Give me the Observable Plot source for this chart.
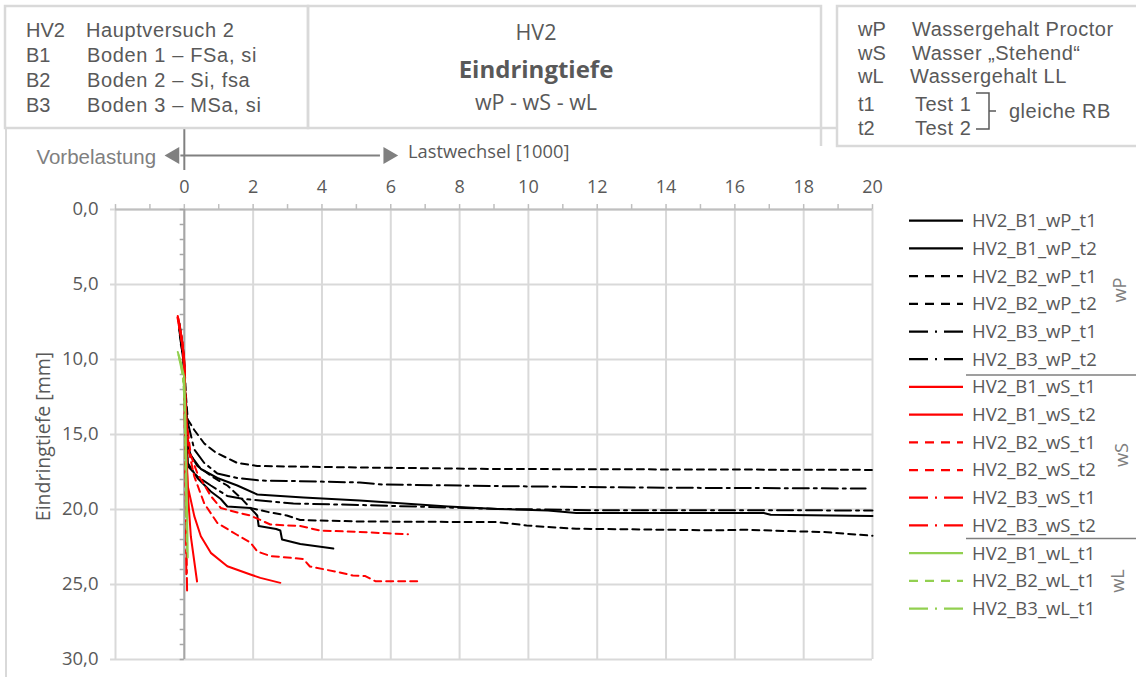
<!DOCTYPE html>
<html><head><meta charset="utf-8">
<script src="https://cdn.jsdelivr.net/npm/d3@7"></script>
<script src="https://cdn.jsdelivr.net/npm/@observablehq/plot@0.6"></script>
<style>
html,body{margin:0;padding:0;background:#fff;}
#wrap{position:relative;width:1136px;height:677px;overflow:hidden;background:#fff;}
#wrap > svg{position:absolute;left:0;top:0;}
</style></head><body><div id="wrap"></div>
<script>
// ---------- data ----------
const xTickLabels = [0, 2, 4, 6, 8, 10, 12, 14, 16, 18, 20];
const xGrid = [-2, 0, 2, 4, 6, 8, 10, 12, 14, 16, 18, 20];
const yTickLabels = [0, 5, 10, 15, 20, 25, 30];
const seriesNames = [
  "HV2_B1_wP_t1","HV2_B1_wP_t2","HV2_B2_wP_t1","HV2_B2_wP_t2","HV2_B3_wP_t1","HV2_B3_wP_t2",
  "HV2_B1_wS_t1","HV2_B1_wS_t2","HV2_B2_wS_t1","HV2_B2_wS_t2","HV2_B3_wS_t1","HV2_B3_wS_t2",
  "HV2_B1_wL_t1","HV2_B2_wL_t1","HV2_B3_wL_t1"
];
const groupLabels = ["wP", "wS", "wL"];
const leftBoxRows = [["HV2","Hauptversuch 2"],["B1","Boden 1 – FSa, si"],["B2","Boden 2 – Si, fsa"],["B3","Boden 3 – MSa, si"]];
const rightBoxRows = [["wP","Wassergehalt Proctor"],["wS","Wasser „Stehend“"],["wL","Wassergehalt LL"],["t1","Test 1"],["t2","Test 2"]];
const titleLines = ["HV2", "Eindringtiefe", "wP - wS - wL"];

// [Lastwechsel (1000), Eindringtiefe (mm)]
const HV2_B1_wP_t1 = [[-0.16,7.7],[-0.05,9.2],[0,10.5],[0.03,13],[0.05,15.3],[0.19,16.4],[0.48,17.3],[0.96,17.9],[1.54,18.4],[2.12,19.0],[3.46,19.2],[5.1,19.4],[7.66,19.8],[9.1,19.96],[10.57,20.06],[11.39,20.23],[16.84,20.23],[17.04,20.35],[20,20.43]];
const HV2_B1_wP_t2 = [[-0.15,8.0],[-0.04,9.6],[0,11],[0.04,14],[0.1,16.9],[0.38,17.9],[0.77,18.8],[1.06,19.3],[1.25,19.8],[1.92,19.9],[2.12,20.4],[2.16,21.1],[2.67,21.3],[2.79,21.4],[2.84,22.0],[3.37,22.3],[4.33,22.6]];
const HV2_B2_wP_t1 = [[-0.14,7.6],[-0.05,9],[0,10.2],[0.05,12.5],[0.1,14.0],[0.29,14.7],[0.58,15.6],[0.91,16.2],[1.54,16.9],[2.12,17.1],[5.1,17.2],[9.1,17.3],[20,17.36]];
const HV2_B2_wP_t2 = [[-0.12,8.2],[-0.03,9.8],[0,11],[0.06,14],[0.14,16.2],[0.38,17.1],[0.87,17.9],[1.25,18.4],[1.63,19.2],[1.92,19.9],[2.5,20.2],[2.98,20.4],[3.37,20.7],[5.1,20.8],[9.1,20.84],[9.95,21.06],[10.57,21.17],[11.39,21.28],[15.5,21.39],[16.32,21.35],[17.55,21.44],[18.58,21.5],[20,21.75]];
const HV2_B3_wP_t1 = [[-0.13,8.4],[-0.03,9.9],[0,11],[0.08,14],[0.29,16],[0.58,16.9],[0.96,17.6],[1.54,17.9],[2.21,18.07],[3.17,18.1],[5.1,18.2],[5.74,18.33],[9.1,18.44],[14,18.55],[19.8,18.6]];
const HV2_B3_wP_t2 = [[-0.1,8.8],[-0.02,10.2],[0,11.5],[0.05,15],[0.1,17.1],[0.38,17.8],[0.77,18.4],[1.25,19.1],[1.73,19.3],[2.21,19.4],[3.17,19.6],[5.1,19.7],[9.1,19.96],[12,20.05],[20,20.06]];
const HV2_B1_wS_t1 = [[-0.19,7.1],[-0.08,8.5],[0,10],[0.02,13],[0.05,16.2],[0.12,19.5],[0.19,21.8],[0.37,24.8]];
const HV2_B1_wS_t2 = [[-0.18,7.4],[-0.06,8.8],[0,10.3],[0.03,13],[0.06,16],[0.1,18.44],[0.29,20.44],[0.48,21.78],[0.77,22.89],[1.25,23.78],[1.92,24.33],[2.21,24.56],[2.79,24.89]];
const HV2_B2_wS_t1 = [[-0.17,7.3],[-0.05,8.9],[0,10.4],[0.05,13.5],[0.12,16],[0.29,17.8],[0.58,19.6],[0.96,20.9],[1.54,21.7],[1.92,22.2],[2.12,22.8],[2.5,23.1],[3.46,23.3],[3.65,23.8],[4.52,24.2],[4.9,24.4],[5.26,24.44],[5.55,24.78],[6.89,24.78]];
const HV2_B2_wS_t2 = [[-0.16,7.6],[-0.04,9.2],[0,10.6],[0.06,14],[0.19,16.4],[0.38,17.6],[0.77,19.1],[1.06,19.9],[1.54,20.2],[1.92,20.4],[2.5,21.0],[3.37,21.1],[3.94,21.4],[5.1,21.5],[6.5,21.65]];
const HV2_B3_wS_t1 = [[-0.2,7.2],[-0.1,8.3],[-0.02,9.8],[0.0,12],[0.02,15],[0.04,18.5],[0.06,22],[0.08,25.4]];
const HV2_B3_wS_t2 = [[-0.15,7.8],[-0.06,9.0],[0.0,10.5],[0.01,13.5],[0.03,17],[0.05,21],[0.06,24.6]];
const HV2_B1_wL_t1 = [[-0.19,9.5],[-0.1,10.2],[0,11.2],[0.03,13.5],[0.05,16],[0.07,19],[0.09,21.5],[0.1,23.2]];
const HV2_B2_wL_t1 = [[-0.17,9.7],[-0.08,10.5],[-0.01,11.8],[0.02,14.5],[0.04,17.5],[0.06,20.5],[0.08,22.8]];
const HV2_B3_wL_t1 = [[-0.15,9.9],[-0.05,11],[0,12.5],[0.03,15.5],[0.05,18.5],[0.06,20.5]];
const seriesValues = [HV2_B1_wP_t1,HV2_B1_wP_t2,HV2_B2_wP_t1,HV2_B2_wP_t2,HV2_B3_wP_t1,HV2_B3_wP_t2,
  HV2_B1_wS_t1,HV2_B1_wS_t2,HV2_B2_wS_t1,HV2_B2_wS_t2,HV2_B3_wS_t1,HV2_B3_wS_t2,
  HV2_B1_wL_t1,HV2_B2_wL_t1,HV2_B3_wL_t1];

// ---------- styles ----------
const colorOf = {wP: "#000000", wS: "#ff0000", wL: "#92d050"};
const dashOf = {B1: null, B2: "7,5", B3: "16,5,3,5"};
const legendDashOf = {B1: null, B2: "9,7", B3: "19,7,2,7"};
const CAL = "'Open Sans', 'Noto Sans', sans-serif";
const ARI = "'Liberation Sans', Arial, sans-serif";
const TXT = "#595959";

const parse = n => { const p = n.split("_"); return {b: p[1], w: p[2]}; };
const fmt = d => d.toFixed(1).replace(".", ",");

const lineMarks = seriesNames.map((name, i) => {
  const {b, w} = parse(name);
  return Plot.line(seriesValues[i], {x: d => d[0], y: d => d[1], stroke: colorOf[w], strokeWidth: 2,
    strokeDasharray: dashOf[b] || undefined, strokeLinejoin: "round"});
});

const plot = Plot.plot({
  width: 1136, height: 677,
  marginTop: 209, marginLeft: 115, marginRight: 264, marginBottom: 18,
  style: {fontFamily: CAL, fontSize: "18px", color: TXT, background: "transparent", overflow: "visible"},
  x: {domain: [-2, 20]},
  y: {domain: [0, 30], reverse: true},
  marks: [
    Plot.gridX(xGrid, {stroke: "#d9d9d9", strokeOpacity: 1, strokeWidth: 2}),
    Plot.gridY(yTickLabels, {stroke: "#d9d9d9", strokeOpacity: 1, strokeWidth: 2}),
    Plot.axisY(yTickLabels, {tickSize: 5, tickPadding: 12, stroke: "#d9d9d9", strokeWidth: 2, fill: TXT, tickFormat: fmt, label: null, fontSize: 18.5}),
    Plot.axisX(xTickLabels, {anchor: "top", tickSize: 0, tickPadding: 17, fill: TXT, label: null, fontSize: 18}),
    Plot.ruleY([0], {stroke: "#bfbfbf", strokeWidth: 2}),
    Plot.ruleX(d3.range(-2, 21, 1), {y1: -0.33, y2: 0, stroke: "#bfbfbf", strokeWidth: 1.5}),
    Plot.ruleX([0], {y1: 0, y2: 30, stroke: "#a6a6a6", strokeWidth: 2}),
    Plot.ruleY(d3.range(0, 31, 1), {x1: -0.12, x2: 0, stroke: "#a6a6a6", strokeWidth: 1.5}),
    // Vorbelastung / Lastwechsel arrow
    Plot.ruleX([0], {y1: -5.4, y2: -2.6, stroke: "#808080", strokeWidth: 2}),
    Plot.ruleY([-3.6], {x1: -0.1, x2: 5.7, stroke: "#808080", strokeWidth: 2}),
    Plot.dot([{x: 5.93, a: 90}, {x: -0.29, a: -90}], {x: "x", y: -3.6, symbol: "triangle", rotate: "a", r: 6.3, fill: "#808080", stroke: null}),
    Plot.text(["Lastwechsel [1000]"], {x: 6.5, y: -3.85, text: d => d, textAnchor: "start", fontSize: 18.3, fill: TXT}),
    Plot.text(["Vorbelastung"], {x: -0.82, y: -3.5, text: d => d, textAnchor: "end", fontSize: 20.5, fontFamily: ARI, fill: "#7f7f7f", letterSpacing: "0.7px"}),
    Plot.text(["Eindringtiefe [mm]"], {frameAnchor: "left", dx: -72, dy: 2, rotate: -90, textAnchor: "middle", text: d => d, fontSize: 19.5, fill: TXT}),
    ...lineMarks
  ]
});
const wrap = document.getElementById("wrap");
wrap.appendChild(plot);

// ---------- overlay: header boxes & legend ----------
const svg = d3.select(wrap).append("svg").attr("width", 1136).attr("height", 677)
  .style("pointer-events", "none");
const box = "#d9d9d9";
svg.append("rect").attr("x", 5).attr("y", 6).attr("width", 303).attr("height", 122).attr("fill", "none").attr("stroke", box).attr("stroke-width", 2.5);
svg.append("rect").attr("x", 308).attr("y", 6).attr("width", 513).attr("height", 122).attr("fill", "none").attr("stroke", box).attr("stroke-width", 2.5);
svg.append("rect").attr("x", 837).attr("y", 6).attr("width", 310).attr("height", 140).attr("fill", "#fff").attr("stroke", box).attr("stroke-width", 2.5);
svg.append("line").attr("x1", 821).attr("x2", 821).attr("y1", 128).attr("y2", 146).attr("stroke", box).attr("stroke-width", 2.5);
svg.append("line").attr("x1", 821).attr("x2", 837).attr("y1", 128).attr("y2", 128).attr("stroke", box).attr("stroke-width", 2.5);
svg.append("line").attr("x1", 6).attr("x2", 6).attr("y1", 128).attr("y2", 677).attr("stroke", box).attr("stroke-width", 2);

// left box
leftBoxRows.forEach((r, i) => {
  const y = 37 + i * 25;
  svg.append("text").attr("x", 26).attr("y", y).attr("font-family", ARI).attr("font-size", 20).attr("fill", TXT).text(r[0]);
  svg.append("text").attr("x", i === 0 ? 86 : 87).attr("y", y).attr("font-family", ARI).attr("font-size", 20)
    .attr("letter-spacing", i === 0 ? "0.6px" : "0.65px").attr("fill", TXT).text(r[1]);
});
// title
const tc = 536;
svg.append("text").attr("x", tc).attr("y", 40).attr("text-anchor", "middle").attr("font-family", CAL).attr("font-size", 21.5).attr("fill", TXT).text(titleLines[0]);
svg.append("text").attr("x", tc).attr("y", 78).attr("text-anchor", "middle").attr("font-family", CAL).attr("font-weight", "bold").attr("font-size", 24).attr("fill", TXT).text(titleLines[1]);
svg.append("text").attr("x", tc).attr("y", 110).attr("text-anchor", "middle").attr("font-family", CAL).attr("font-size", 21.5).attr("fill", TXT).text(titleLines[2]);
// right box
const rbY = [36, 60, 83, 111, 135];
rightBoxRows.forEach((r, i) => {
  svg.append("text").attr("x", 858).attr("y", rbY[i]).attr("font-family", ARI).attr("font-size", 20).attr("fill", TXT).text(r[0]);
  svg.append("text").attr("x", i === 2 ? 910 : (i >= 3 ? 915 : 912)).attr("y", rbY[i]).attr("font-family", ARI).attr("font-size", 20)
    .attr("letter-spacing", "0.5px").attr("fill", TXT).text(r[1]);
});
svg.append("path").attr("d", "M976,93 L989,93 L989,129 L976,129 M989,111 L996,111").attr("fill", "none").attr("stroke", TXT).attr("stroke-width", 1.5);
svg.append("text").attr("x", 1009).attr("y", 118).attr("font-family", ARI).attr("font-size", 20).attr("letter-spacing", "0.5px").attr("fill", TXT).text("gleiche RB");

// legend
seriesNames.forEach((name, i) => {
  const {b, w} = parse(name);
  const y = 220.7 + i * 27.7;
  svg.append("line").attr("x1", 909).attr("x2", 963).attr("y1", y).attr("y2", y)
    .attr("stroke", colorOf[w]).attr("stroke-width", 2.25).attr("stroke-dasharray", legendDashOf[b]);
  svg.append("text").attr("x", 972).attr("y", y).attr("dy", "0.35em").attr("font-family", CAL).attr("font-size", 18.5).attr("fill", TXT).text(name);
});
[375, 538.5].forEach(y => svg.append("line").attr("x1", 966).attr("x2", 1136).attr("y1", y).attr("y2", y).attr("stroke", "#7f7f7f").attr("stroke-width", 1.5));
[[1120, 290], [1122, 455], [1118, 581]].forEach((p, i) => {
  svg.append("text").attr("transform", `translate(${p[0]},${p[1]}) rotate(-90)`).attr("text-anchor", "middle").attr("dy", "0.35em")
    .attr("font-family", CAL).attr("font-size", 18.3).attr("fill", "#7f7f7f").text(groupLabels[i]);
});
</script>
</body></html>
